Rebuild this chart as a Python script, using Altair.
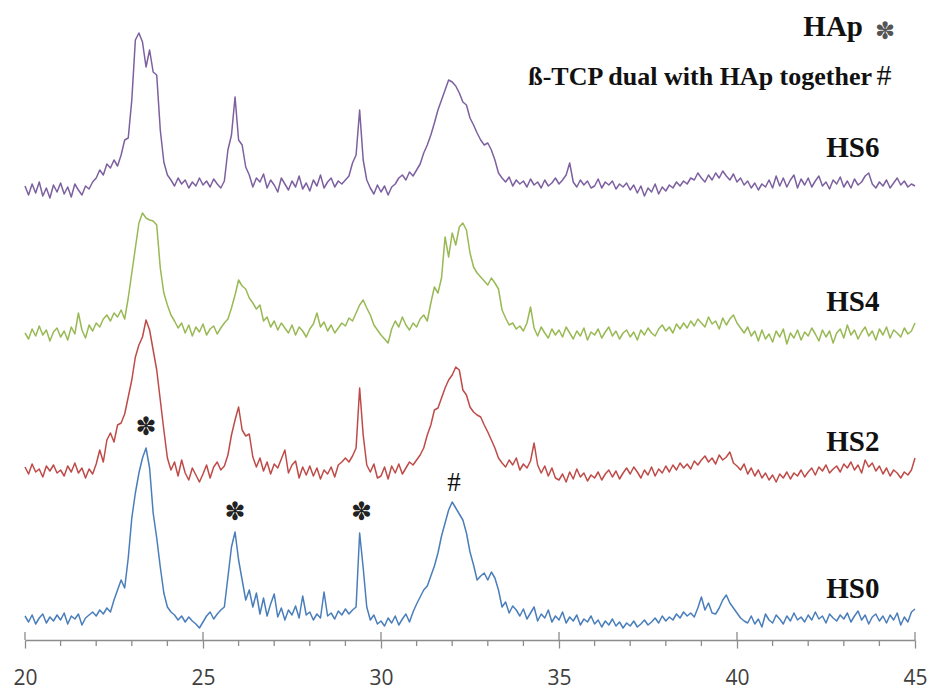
import altair as alt
import pandas as pd

# ---------------- data ----------------
x_start = 20.0
x_step = 0.1
series_names = ["HS0", "HS2", "HS4", "HS6"]
series_colors = ["#4a7ebb", "#be4b48", "#98b954", "#7d60a0"]
offsets = [22, 170, 307, 450]  # vertical stacking offset of each pattern (a.u.)

hs0 = [2, -4, 3, -6, 0, 4, -5, 1, -3, 3,
       -2, 5, -6, 2, -1, 4, -7, 0, 3, 6,
       2, 8, 4, 10, 6, 18, 28, 38, 30, 60,
       100, 125, 145, 160, 170, 150, 105, 80, 51, 25,
       11, 6, 3, -2, 2, -4, 1, -3, -6, -10,
       -4, 2, 6, -1, 4, 8, 11, 41, 71, 86,
       58, 38, 18, 28, 11, 25, 4, 20, 2, 14,
       24, 1, 10, -2, 8, 3, 12, 0, 22, 3,
       6, -2, 4, 0, 26, 2, 5, -1, 7, 3,
       9, 4, 8, 11, 85, 50, 11, -2, 3, -6,
       -3, -8, 0, -5, 2, -7, -1, 4, -4, 6,
       14, 21, 28, 32, 42, 52, 65, 82, 95, 108,
       116, 110, 104, 98, 85, 66, 53, 38, 42, 45,
       38, 46, 40, 28, 11, 16, 5, 12, 8, 2,
       9, -1, 5, 11, -3, 4, 0, 8, -4, 2,
       -2, 6, -5, 1, -3, 3, -7, -1, -4, 2,
       -6, -2, -9, -3, -7, -1, -8, -4, -10, -5,
       -8, -3, -9, -6, -2, -7, -4, 0, -5, 2,
       -3, 1, -2, 4, 0, 6, 2, 5, 1, 10,
       21, 8, 15, 5, 4, 10, 18, 23, 15, 10,
       5, 0, -3, -5, 2, -6, -1, -9, 4, -2,
       -5, 3, -1, -6, 2, -3, 5, -2, 1, -4,
       3, -2, 6, -1, 2, -5, 4, 0, -3, 3,
       -1, 5, -4, 2, 7, -2, 3, -6, 1, 4,
       -3, 2, -5, 3, -2, 5, -7, 1, -4, 6,
       9]

hs2 = [3, -4, 6, -2, 1, -7, 4, -1, 5, -3,
       0, -6, 4, -2, 7, -3, 2, -8, 1, -4,
       6, 20, 8, 30, 37, 28, 45, 47, 56, 73,
       90, 113, 125, 133, 150, 140, 120, 100, 70, 40,
       12, 0, 8, -6, 10, -3, -10, 2, -5, -12,
       -4, 5, -8, 3, 8, 0, 4, 15, 35, 50,
       63, 40, 34, 36, 13, 3, 12, -1, 8, -4,
       6, 2, 11, 20, -3, 5, 9, -8, 3, -5,
       4, -6, 2, -9, 0, -4, 3, -7, 5, 8,
       12, 8, 14, 22, 82, 35, 5, -2, 6, -8,
       -6, 3, -9, 4, -3, 6, -4, 2, 8, 5,
       10, 15, 22, 35, 45, 60, 62, 72, 82, 90,
       95, 103, 100, 80, 75, 63, 58, 55, 53, 45,
       38, 30, 22, 12, 7, 3, 10, 5, 12, 0,
       6, 2, 9, 27, 5, -3, 4, -6, 2, -8,
       -10, -4, -12, -2, -9, 1, -7, -3, -11, -5,
       -8, -2, -10, -4, 0, -7, -1, -9, -3, 2,
       -4, 3, -2, -8, 0, -5, 3, -6, 1, -3,
       4, -2, 5, 0, 7, 2, 6, 1, 9, 5,
       10, 14, 8, 12, 6, 15, 10, 13, 18, 7,
       4, 0, 6, -4, 2, -6, 0, -8, -3, -10,
       -5, -12, -4, -8, -2, -9, -3, -6, 0, -7,
       -2, 2, -5, 3, -1, 5, -3, 1, 4, -2,
       6, 2, 8, 0, 5, -3, 10, 3, 7, -1,
       4, -4, 2, -6, 0, -3, -8, -2, -5, 0,
       12]

hs4 = [0, -6, 4, -3, 7, -2, 3, -8, 1, 5,
       -4, 2, -7, 6, -1, 20, 3, -5, 8, 2,
       10, 6, 14, 18, 12, 20, 16, 23, 14, 35,
       60, 85, 110, 120, 115, 113, 112, 108, 65, 40,
       28, 18, 12, 5, 10, 0, 8, -3, 6, 1,
       9, -2, 4, 7, -1, 5, 10, 14, 25, 38,
       53, 47, 44, 35, 30, 24, 28, 12, 16, 6,
       12, 3, 10, 5, 0, 8, -2, 6, 2, -4,
       4, 9, 20, 6, 11, 2, 8, 0, 5, 10,
       7, 15, 12, 20, 28, 33, 25, 18, 8, 3,
       -2, -6, -10, 4, 12, 6, 16, 8, 3, 10,
       6, 14, 18, 12, 30, 46, 40, 55, 96, 76,
       100, 88, 106, 110, 103, 80, 66, 60, 56, 52,
       48, 55, 50, 44, 23, 15, 8, 10, 4, 7,
       2, 10, 26, 5, -3, 6, 0, -5, 4, -2,
       3, -4, 6, 0, -6, 2, -3, 5, -7, 1,
       -2, 4, -5, 1, 6, -3, 2, -6, 0, 3,
       -4, 1, -7, 3, -2, 5, 0, -3, 4, 8,
       2, 6, 0, 9, 4, 10, 5, 12, 7, 14,
       10, 6, 16, 9, 12, 4, 15, 8, 14, 18,
       10, 5, 0, 6, -3, 2, -8, 3, -6, -1,
       -9, 2, -4, 4, -11, 0, -5, 3, -7, 1,
       -3, 5, -1, -8, 3, -4, 2, -10, 0, 4,
       -5, 8, -2, 3, -6, 1, 6, -3, 2, -7,
       4, -2, 6, -5, 3, 0, -4, 5, -1, 2,
       10]

hs6 = [4, -5, 6, -3, 8, -6, 2, -8, 5, -2,
       7, -4, 3, -7, 6, 0, -5, 4, 1, 8,
       12, 20, 15, 26, 22, 30, 24, 35, 50, 52,
       90, 150, 157, 148, 123, 140, 118, 115, 60, 28,
       15, 10, 4, 12, 6, 10, 2, 8, 4, 12,
       5, 9, 3, 11, 6, 2, 9, 40, 55, 93,
       50, 45, 23, 15, 3, 12, 8, 16, 2, 10,
       5, -2, 12, 6, 0, 9, 3, 14, 1, 7,
       -1, 10, 4, 15, 2, 8, 12, 3, 9, 6,
       10, 14, 27, 35, 80, 30, 10, 2, -4, 5,
       -2, 4, -5, 3, 6, 12, 15, 10, 18, 14,
       20, 26, 37, 45, 55, 67, 80, 90, 100, 110,
       108, 104, 97, 88, 85, 72, 65, 57, 50, 45,
       47, 40, 30, 17, 12, 8, 13, 4, 10, 6,
       9, 3, 11, 5, 8, 2, 10, 4, 7, 12,
       6, 10, 15, 27, 8, 3, 10, 5, 9, 2,
       4, 11, 2, 8, 5, 9, 1, 6, 3, 7,
       0, 5, -3, 4, -6, 2, -2, 6, -4, 3,
       -1, 5, 2, 8, 4, 9, 6, 12, 10, 17,
       12, 8, 15, 10, 17, 12, 19, 14, 10, 16,
       8, 12, 5, 9, 2, 7, 0, 6, 3, 10,
       2, 14, 4, 12, 3, 10, 15, 2, 11, 5,
       12, 3, 9, 14, 4, 8, 1, 10, 6, 13,
       3, 9, 2, 11, 5, 8, 14, 17, 6, 2,
       8, 4, 10, 2, 7, 12, 5, 9, 3, 6,
       4]

series_values = [hs0, hs2, hs4, hs6]

# series labels (right side)
label_x = [44.0, 44.0, 44.0, 44.0]
label_y = [51, 198, 338, 492]

# peak markers
marker_x = [23.4, 25.9, 29.45, 32.05]
marker_y = [213, 128, 128, 157]
marker_text = ["\u273d", "\u273d", "\u273d", "#"]

major_ticks = [20, 25, 30, 35, 40, 45]
minor_ticks = [v for v in range(20, 46) if v % 5 != 0]

# ---------------- build tables ----------------
rows = []
for name, off, vals in zip(series_names, offsets, series_values):
    for i, v in enumerate(vals):
        rows.append({"two_theta": round(x_start + i * x_step, 2),
                     "intensity": v + off, "series": name})
df = pd.DataFrame(rows)

labels_df = pd.DataFrame({"x": label_x, "y": label_y, "text": series_names})
markers_df = pd.DataFrame({"x": marker_x, "y": marker_y, "text": marker_text})
majors_df = pd.DataFrame({"x": major_ticks})
minors_df = pd.DataFrame({"x": minor_ticks})

W, H = 890, 620
AX = "#8c8c8c"
xscale = alt.Scale(domain=[20, 45], nice=False, zero=False)
yscale = alt.Scale(domain=[0, 620], nice=False, zero=True)

lines = alt.Chart(df).mark_line(strokeWidth=1.5, strokeJoin="round").encode(
    x=alt.X("two_theta:Q", scale=xscale,
            axis=alt.Axis(values=major_ticks, title=None, grid=False,
                          labelOverlap=False, labelFlush=False,
                          tickSize=8, tickWidth=1.3, tickColor=AX,
                          domainColor=AX, domainWidth=1.5,
                          labelFont="Open Sans", labelFontSize=21,
                          labelColor="#404040", labelPadding=19)),
    y=alt.Y("intensity:Q", scale=yscale, axis=None),
    color=alt.Color("series:N",
                    scale=alt.Scale(domain=series_names, range=series_colors),
                    legend=None),
    detail="series:N",
)

major_up = alt.Chart(majors_df).mark_rule(color=AX, strokeWidth=1.3).encode(
    x=alt.X("x:Q", scale=xscale),
    y=alt.value(H),
    y2=alt.value(H - 8),
)

minor_down = alt.Chart(minors_df).mark_rule(color=AX, strokeWidth=1.3).encode(
    x=alt.X("x:Q", scale=xscale),
    y=alt.value(H),
    y2=alt.value(H + 6),
)

series_labels = alt.Chart(labels_df).mark_text(
    font="Liberation Serif", fontWeight="bold", fontSize=29,
    align="right", baseline="middle", color="#111111"
).encode(
    x=alt.X("x:Q", scale=xscale),
    y=alt.Y("y:Q", scale=yscale),
    text="text:N",
)

asterisks = alt.Chart(markers_df[markers_df["text"] != "#"]).mark_text(
    font="DejaVu Sans", fontSize=25, align="center", baseline="middle",
    color="#222222"
).encode(
    x=alt.X("x:Q", scale=xscale),
    y=alt.Y("y:Q", scale=yscale),
    text="text:N",
)

hashes = alt.Chart(markers_df[markers_df["text"] == "#"]).mark_text(
    font="Liberation Serif", fontSize=27, align="center", baseline="middle",
    color="#111111"
).encode(
    x=alt.X("x:Q", scale=xscale),
    y=alt.Y("y:Q", scale=yscale),
    text="text:N",
)

legend_df = pd.DataFrame({"t": ["HAp"]})
leg1 = alt.Chart(legend_df).mark_text(
    font="Liberation Serif", fontWeight="bold", fontSize=29,
    align="right", baseline="middle", color="#111111"
).encode(x=alt.value(838), y=alt.value(7), text=alt.value("HAp"))
leg1s = alt.Chart(legend_df).mark_text(
    font="DejaVu Sans", fontSize=24, align="center", baseline="middle",
    color="#555555"
).encode(x=alt.value(860), y=alt.value(12), text=alt.value("\u273d"))
leg2 = alt.Chart(legend_df).mark_text(
    font="Liberation Serif", fontWeight="bold", fontSize=26,
    align="right", baseline="middle", color="#111111"
).encode(x=alt.value(847), y=alt.value(57),
         text=alt.value("\u00df-TCP dual with HAp together"))
leg2h = alt.Chart(legend_df).mark_text(
    font="Liberation Serif", fontSize=30, align="center", baseline="middle",
    color="#111111"
).encode(x=alt.value(859), y=alt.value(56), text=alt.value("#"))

chart = alt.layer(
    lines, major_up, minor_down, series_labels, asterisks, hashes,
    leg1, leg1s, leg2, leg2h
).properties(
    width=W, height=H,
    autosize=alt.AutoSizeParams(type="none"),
    padding={"left": 25, "top": 20, "right": 16, "bottom": 53},
    background="white",
).configure_view(stroke=None)

chart.save("out.html", embed_options={"renderer": "svg", "actions": False})
